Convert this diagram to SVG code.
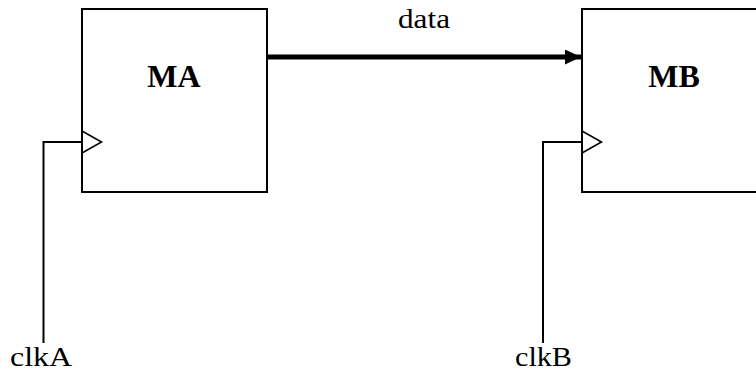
<svg xmlns="http://www.w3.org/2000/svg" width="756" height="373" viewBox="0 0 756 373">
  <style>
    .box { fill: #fff; stroke: #000; stroke-width: 2; }
    .wire { fill: none; stroke: #000; stroke-width: 2; }
    .bus { fill: none; stroke: #000; stroke-width: 5; }
    .clk { fill: none; stroke: #000; stroke-width: 1.6; stroke-linejoin: miter; }
    text { font-family: "Liberation Serif", "Times New Roman", serif; fill: #000; }
    .name { font-weight: bold; font-size: 32px; text-anchor: middle; }
    .label { font-size: 27px; }
  </style>
  <defs>
    <marker id="arrow" viewBox="0 0 16 15" refX="16" refY="7.5" markerWidth="16" markerHeight="15" markerUnits="userSpaceOnUse" orient="auto">
      <path d="M0,0 L16,7.5 L0,15 Z" fill="#000"/>
    </marker>
  </defs>

  <g id="MA">
    <rect class="box" x="82" y="9" width="185" height="183"/>
    <path class="clk" d="M82,131 L101.5,142 L82,153"/>
    <text class="name" x="174" y="87">MA</text>
  </g>

  <g id="MB">
    <rect class="box" x="582" y="9" width="200" height="183"/>
    <path class="clk" d="M582,131 L601.5,142 L582,153"/>
    <text class="name" x="674" y="87">MB</text>
  </g>

  <g id="connectors">
    <line class="bus" x1="268" y1="57" x2="581" y2="57" marker-end="url(#arrow)"/>
    <polyline class="wire" points="43.5,343 43.5,142 82,142"/>
    <polyline class="wire" points="543,343 543,142 582,142"/>
  </g>

  <g id="labels">
    <text class="label" x="398" y="28" textLength="52" lengthAdjust="spacingAndGlyphs">data</text>
    <text class="label" x="10" y="366" textLength="62" lengthAdjust="spacingAndGlyphs">clkA</text>
    <text class="label" x="515" y="366" textLength="57" lengthAdjust="spacingAndGlyphs">clkB</text>
  </g>
</svg>
